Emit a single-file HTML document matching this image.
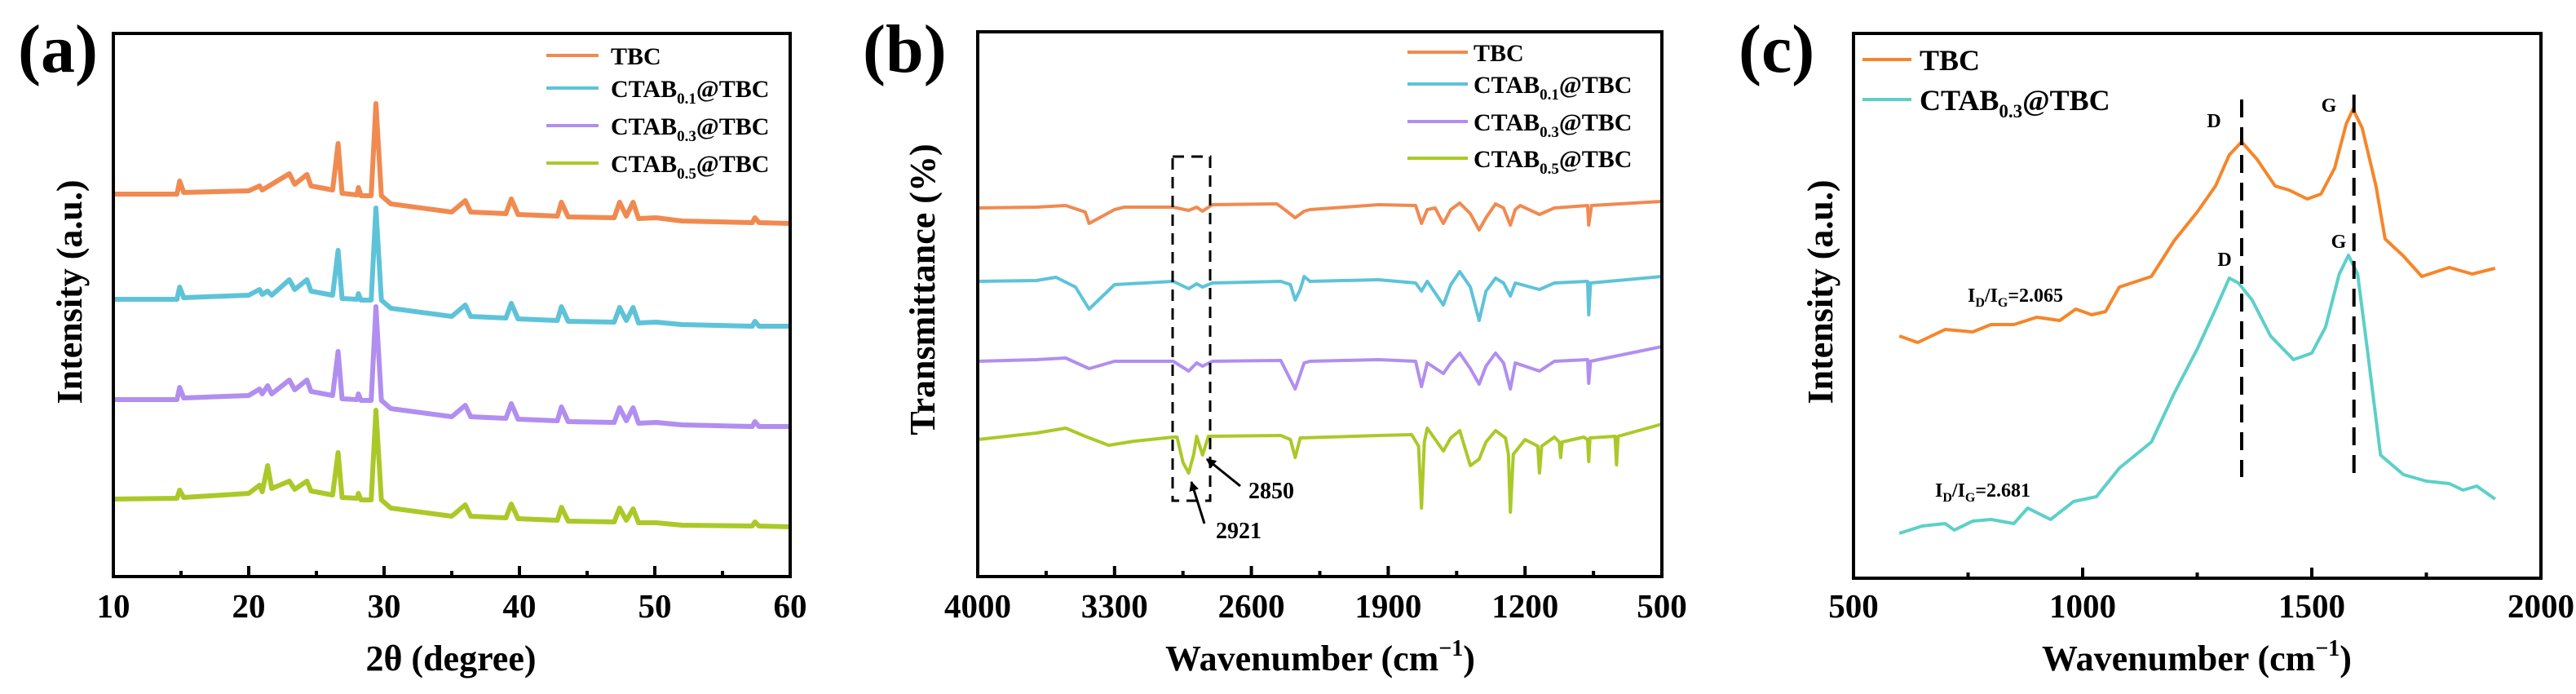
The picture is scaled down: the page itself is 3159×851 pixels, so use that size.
<!DOCTYPE html>
<html><head><meta charset="utf-8">
<style>
html,body{margin:0;padding:0;background:#fff;}
svg{display:block;font-family:"Liberation Serif",serif;font-weight:bold;}
</style></head>
<body>
<svg id="fig" width="3159" height="851" viewBox="0 0 3159 851" xmlns="http://www.w3.org/2000/svg">
<g id="layer"></g>
</svg>
<script>
// ---------- Panel (a) XRD data: [2theta, intensity a.u.] ----------
const xrdTBC=[[10,469],[14.7,469],[14.9,485],[15.2,471],[20,473],[20.8,479],[21,474],[23,494],[23.4,481],[24.3,493],[24.6,479],[26.2,474],[26.6,531],[26.9,470],[28,468],[28.1,477],[28.3,467],[29.05,467],[29.4,580],[29.8,467],[30.5,457],[35,447],[36,461],[36.4,447],[39,445],[39.4,463],[39.9,444],[42.8,442],[43.1,459],[43.6,441],[47,440],[47.4,459],[47.9,442],[48.4,459],[48.8,439],[50.1,440],[52,436],[57.2,434],[57.4,440],[57.7,434],[60,433]];
const xrdC01=[[10,340],[14.7,340],[14.9,355],[15.2,342],[20,345],[20.8,352],[21,346],[21.4,350],[21.7,345],[23,364],[23.4,352],[24.3,364],[24.6,350],[26.2,345],[26.6,400],[26.9,341],[28,340],[28.1,347],[28.3,339],[29.05,339],[29.4,452],[29.8,339],[30.5,329],[35,319],[36,333],[36.4,319],[39,317],[39.4,335],[39.9,316],[42.8,314],[43.1,331],[43.6,313],[47,312],[47.4,330],[47.9,314],[48.4,330],[48.8,311],[50.1,312],[52,309],[57.2,307],[57.4,313],[57.7,307],[60,307]];
const xrdC03=[[10,217],[14.7,217],[14.9,232],[15.2,219],[20,222],[20.8,230],[21,224],[21.4,234],[21.7,224],[23,241],[23.4,229],[24.3,241],[24.6,227],[26.2,222],[26.6,276],[26.9,218],[28,217],[28.1,224],[28.3,216],[29.05,216],[29.4,331],[29.8,216],[30.5,206],[35,196],[36,210],[36.4,196],[39,194],[39.4,212],[39.9,193],[42.8,191],[43.1,208],[43.6,190],[47,189],[47.4,207],[47.9,191],[48.4,207],[48.8,188],[50.1,189],[52,186],[57.2,184],[57.4,190],[57.7,184],[60,184]];
const xrdC05=[[10,95],[14.7,96],[14.9,106],[15.2,97],[20,102],[20.8,112],[21,104],[21.4,136],[21.7,108],[23,117],[23.4,107],[24.3,117],[24.6,105],[26.2,100],[26.6,152],[26.9,97],[28,96],[28.1,102],[28.3,94],[29.05,94],[29.4,204],[29.8,94],[30.5,84],[35,74],[36,88],[36.4,74],[39,72],[39.4,89],[39.9,71],[42.8,69],[43.1,85],[43.6,68],[47,67],[47.4,84],[47.9,69],[48.4,83],[48.8,66],[50.1,66],[52,63],[57.2,62],[57.4,67],[57.7,62],[60,61]];
const xrdTicks=[10,20,30,40,50,60];
const xrdMinor=[15,25,35,45,55];
// ---------- Panel (b) FTIR data: [wavenumber, transmittance a.u.] ----------
const irTBC=[[4000,452],[3700,453],[3550,455],[3450,447],[3430,433],[3300,450],[3250,453],[3000,453],[2921,449],[2880,453],[2850,448],[2800,456],[2470,457],[2430,450],[2376,440],[2330,448],[2300,450],[1950,456],[1760,455],[1730,433],[1700,450],[1660,452],[1618,433],[1580,450],[1534,458],[1480,445],[1435,425],[1400,440],[1351,457],[1310,452],[1275,431],[1250,450],[1225,455],[1126,444],[1050,452],[880,455],[874,431],[860,455],[500,460]];
const irC01=[[4000,362],[3700,363],[3600,367],[3500,355],[3430,328],[3300,358],[3000,362],[2921,353],[2880,359],[2850,355],[2800,360],[2450,362],[2400,358],[2376,339],[2350,352],[2330,368],[2300,362],[1950,364],[1760,360],[1730,350],[1700,362],[1618,333],[1580,358],[1534,374],[1480,355],[1435,314],[1400,350],[1351,366],[1310,360],[1275,344],[1250,360],[1126,352],[1050,360],[880,362],[874,321],[865,360],[500,368]];
const irC03=[[4000,264],[3700,266],[3550,268],[3430,255],[3300,264],[3000,264],[2921,252],[2880,262],[2850,258],[2800,264],[2450,265],[2376,230],[2330,262],[2300,264],[1950,266],[1760,264],[1730,233],[1700,262],[1618,249],[1580,262],[1534,274],[1480,255],[1435,236],[1400,258],[1351,274],[1310,262],[1275,230],[1250,262],[1126,252],[1050,264],[880,266],[874,237],[865,264],[500,282]];
const irC05=[[4000,168],[3700,176],[3550,182],[3450,172],[3330,161],[3200,166],[3000,171],[2980,171],[2950,140],[2921,127],[2895,150],[2880,172],[2850,149],[2820,172],[2450,173],[2400,168],[2376,146],[2350,170],[1950,173],[1780,174],[1745,160],[1730,84],[1715,165],[1700,182],[1650,165],[1618,154],[1580,170],[1534,179],[1480,136],[1435,144],[1400,165],[1351,179],[1300,170],[1285,150],[1275,79],[1260,150],[1200,168],[1135,160],[1126,127],[1115,160],[1050,171],[1025,165],[1018,146],[1010,165],[900,171],[880,168],[874,141],[868,170],[740,172],[732,137],[724,172],[500,187]];
const irTicks=[4000,3300,2600,1900,1200,500];
const irMinor=[3650,2950,2250,1550,850];
// ---------- Panel (c) Raman data: [wavenumber, intensity a.u.] ----------
const ramTBC=[[600,297],[640,289],[700,305],[760,302],[800,311],[850,311],[900,320],[950,316],[985,330],[1020,323],[1050,327],[1080,357],[1150,370],[1200,414],[1250,449],[1290,481],[1320,519],[1347,535],[1380,514],[1420,481],[1450,476],[1490,465],[1520,471],[1550,503],[1575,557],[1590,575],[1610,552],[1640,481],[1660,416],[1700,395],[1740,370],[1800,381],[1850,373],[1900,380]];
const ramC03=[[600,55],[650,64],[700,67],[720,59],[760,70],[800,72],[850,67],[880,86],[930,72],[980,94],[1030,100],[1080,135],[1150,167],[1200,227],[1250,281],[1290,330],[1320,368],[1340,362],[1370,341],[1410,297],[1460,268],[1500,276],[1530,308],[1560,373],[1580,396],[1600,373],[1620,286],[1650,151],[1700,127],[1750,119],[1800,116],[1830,108],[1860,113],[1900,97]];
const ramTicks=[500,1000,1500,2000];
const ramMinor=[750,1250,1750];
const ramDpos=1347, ramGpos=1592;

const NS="http://www.w3.org/2000/svg";
const layer=document.getElementById('layer');
function mk(tag,attrs,parent){const e=document.createElementNS(NS,tag);for(const k in attrs)e.setAttribute(k,attrs[k]);(parent||layer).appendChild(e);return e;}

function panel(cfg){
  const g=mk('g',{});
  
  
  const xs=v=>cfg.x0+(v-cfg.d0)/(cfg.d1-cfg.d0)*(cfg.x1-cfg.x0);
  const ys=v=>cfg.y1-v;
  cfg.series.forEach(s=>{
    const p=mk('polyline',{points:s.data.map(d=>xs(d[0]).toFixed(1)+','+ys(d[1]).toFixed(1)).join(' '),fill:'none',stroke:s.color,'stroke-width':s.w||4,'stroke-linejoin':'round'},g);
    
    
  });
  const fr=mk('rect',{x:cfg.x0,y:cfg.y0,width:cfg.x1-cfg.x0,height:cfg.y1-cfg.y0,fill:'none',stroke:'#000','stroke-width':4},g);
  
  
  cfg.ticks.forEach(t=>{
    const x=xs(t);
    const l=mk('line',{x1:x,x2:x,y1:cfg.y1,y2:cfg.y1-13,stroke:'#000','stroke-width':4},g);
    
    
    const tx=mk('text',{x:x,y:757,'font-size':41,'text-anchor':'middle'},g);
    tx.textContent=t;
    
    
  });
  cfg.minor.forEach(t=>{
    const x=xs(t);
    const l=mk('line',{x1:x,x2:x,y1:cfg.y1,y2:cfg.y1-7,stroke:'#000','stroke-width':4},g);
    
    
  });
  return {g,xs,ys};
}

const A=panel({name:'panel-a-xrd',x0:139,x1:969,y0:41,y1:707,d0:10,d1:60,ticks:xrdTicks,minor:xrdMinor,
 series:[{id:'xrd-tbc',data:xrdTBC,color:'#f08a50',w:6},{id:'xrd-ctab01',data:xrdC01,color:'#5ec3d9',w:6},{id:'xrd-ctab03',data:xrdC03,color:'#b18ef0',w:6},{id:'xrd-ctab05',data:xrdC05,color:'#aac928',w:6}]});
const B=panel({name:'panel-b-ftir',x0:1199,x1:2038,y0:39,y1:707,d0:4000,d1:500,ticks:irTicks,minor:irMinor,
 series:[{id:'ftir-tbc',data:irTBC,color:'#f08a50',w:4},{id:'ftir-ctab01',data:irC01,color:'#5ec3d9',w:4},{id:'ftir-ctab03',data:irC03,color:'#b18ef0',w:4},{id:'ftir-ctab05',data:irC05,color:'#aac928',w:4}]});
const C=panel({name:'panel-c-raman',x0:2273,x1:3116,y0:41,y1:709,d0:500,d1:2000,ticks:ramTicks,minor:ramMinor,
 series:[{id:'raman-tbc',data:ramTBC,color:'#f5862a',w:4},{id:'raman-ctab03',data:ramC03,color:'#5cd0c8',w:4}]});

[[ramDpos,122,585,'d-band-line'],[ramGpos,116,580,'g-band-line']].forEach(d=>{
  const l=mk('line',{x1:C.xs(d[0]),x2:C.xs(d[0]),y1:d[1],y2:d[2],stroke:'#000','stroke-width':4,'stroke-dasharray':'22,12'});
  
  
});
const bx=mk('rect',{x:B.xs(3003),y:192,width:B.xs(2811)-B.xs(3003),height:422,fill:'none',stroke:'#000','stroke-width':3,'stroke-dasharray':'14,9'});


</script>
<script>
const fig=document.getElementById('fig');
const ann=`
<defs><marker id="arr" viewBox="0 0 10 10" refX="9" refY="5" markerWidth="4" markerHeight="4" orient="auto"><path d="M0,0 L10,5 L0,10 z" fill="#000"/></marker></defs>
<text x="22" y="88" font-size="84">(a)</text>
<text x="1058" y="88" font-size="84">(b)</text>
<text x="2132" y="88" font-size="84">(c)</text>
<text x="553" y="822" font-size="44" text-anchor="middle">2θ (degree)</text>
<text transform="translate(100,358) rotate(-90)" font-size="44" text-anchor="middle">Intensity (a.u.)</text>
<text x="1619" y="822" font-size="44" text-anchor="middle">Wavenumber (cm<tspan font-size="28" dy="-18">−1</tspan><tspan dy="18">)</tspan></text>
<text transform="translate(1146,355) rotate(-90)" font-size="44" text-anchor="middle">Transmittance (%)</text>
<text x="2694" y="822" font-size="44" text-anchor="middle">Wavenumber (cm<tspan font-size="28" dy="-18">−1</tspan><tspan dy="18">)</tspan></text>
<text transform="translate(2247,358) rotate(-90)" font-size="44" text-anchor="middle">Intensity (a.u.)</text>
<g font-size="30">
 <line x1="670" x2="734" y1="68" y2="68" stroke="#f08a50" stroke-width="4"/><text x="749" y="79">TBC</text>
 <line x1="670" x2="734" y1="108" y2="108" stroke="#5ec3d9" stroke-width="4"/><text x="749" y="119">CTAB<tspan font-size="19" dy="8">0.1</tspan><tspan dy="-8">@TBC</tspan></text>
 <line x1="670" x2="734" y1="154" y2="154" stroke="#b18ef0" stroke-width="4"/><text x="749" y="165">CTAB<tspan font-size="19" dy="8">0.3</tspan><tspan dy="-8">@TBC</tspan></text>
 <line x1="670" x2="734" y1="200" y2="200" stroke="#aac928" stroke-width="4"/><text x="749" y="211">CTAB<tspan font-size="19" dy="8">0.5</tspan><tspan dy="-8">@TBC</tspan></text>
</g>
<g font-size="30">
 <line x1="1726" x2="1800" y1="64" y2="64" stroke="#f08a50" stroke-width="4"/><text x="1807" y="75">TBC</text>
 <line x1="1726" x2="1800" y1="103" y2="103" stroke="#5ec3d9" stroke-width="4"/><text x="1807" y="114">CTAB<tspan font-size="19" dy="8">0.1</tspan><tspan dy="-8">@TBC</tspan></text>
 <line x1="1726" x2="1800" y1="149" y2="149" stroke="#b18ef0" stroke-width="4"/><text x="1807" y="160">CTAB<tspan font-size="19" dy="8">0.3</tspan><tspan dy="-8">@TBC</tspan></text>
 <line x1="1726" x2="1800" y1="194" y2="194" stroke="#aac928" stroke-width="4"/><text x="1807" y="205">CTAB<tspan font-size="19" dy="8">0.5</tspan><tspan dy="-8">@TBC</tspan></text>
</g>
<g font-size="36">
 <line x1="2284" x2="2344" y1="73" y2="73" stroke="#f5862a" stroke-width="4"/><text x="2354" y="86">TBC</text>
 <line x1="2284" x2="2344" y1="122" y2="122" stroke="#5cd0c8" stroke-width="4"/><text x="2354" y="135">CTAB<tspan font-size="23" dy="9">0.3</tspan><tspan dy="-9">@TBC</tspan></text>
</g>
<g font-size="28">
 <line x1="1521" y1="596" x2="1480" y2="563" stroke="#000" stroke-width="3" marker-end="url(#arr)"/>
 <text x="1531" y="611">2850</text>
 <line x1="1477" y1="642" x2="1461" y2="591" stroke="#000" stroke-width="3" marker-end="url(#arr)"/>
 <text x="1491" y="660">2921</text>
</g>
<g font-size="24">
 <text x="2715" y="156" text-anchor="middle">D</text>
 <text x="2856" y="137" text-anchor="middle">G</text>
 <text x="2728" y="326" text-anchor="middle">D</text>
 <text x="2868" y="304" text-anchor="middle">G</text>
 <text x="2413" y="370" font-size="24">I<tspan font-size="16" dy="6">D</tspan><tspan dy="-6">/I</tspan><tspan font-size="16" dy="6">G</tspan><tspan dy="-6">=2.065</tspan></text>
 <text x="2373" y="609" font-size="24">I<tspan font-size="16" dy="6">D</tspan><tspan dy="-6">/I</tspan><tspan font-size="16" dy="6">G</tspan><tspan dy="-6">=2.681</tspan></text>
</g>`;
fig.insertAdjacentHTML('beforeend',ann);
</script>
</body></html>
